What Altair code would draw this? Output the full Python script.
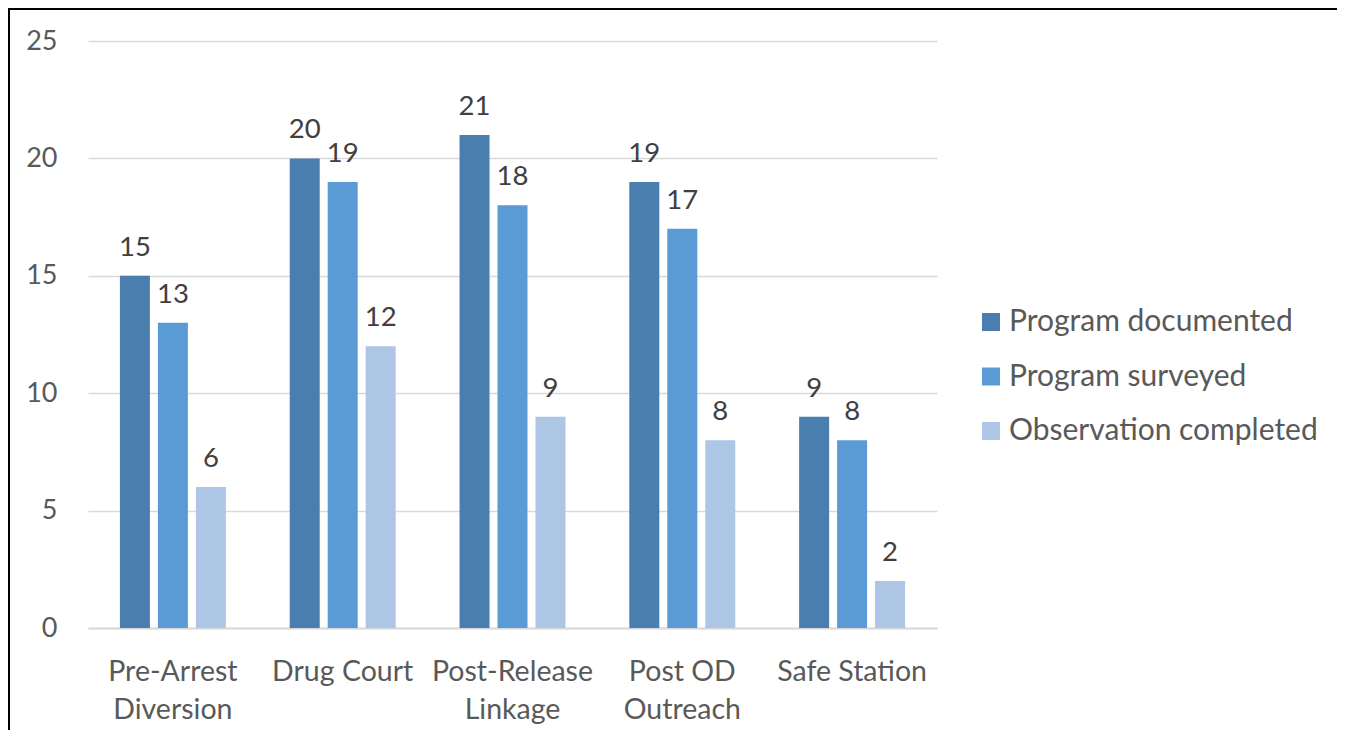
import altair as alt
import pandas as pd

categories = ["Pre-Arrest\nDiversion", "Drug Court", "Post-Release\nLinkage", "Post OD\nOutreach", "Safe Station"]
series = ["Program documented", "Program surveyed", "Observation completed"]
documented = [15, 20, 21, 19, 9]
surveyed = [13, 19, 18, 17, 8]
observed = [6, 12, 9, 8, 2]
colors = ["#4A7EAF", "#5B9BD5", "#ADC6E6"]
y_ticks = [0, 5, 10, 15, 20, 25]

rows = []
for i, c in enumerate(categories):
    for s, vals in zip(series, [documented, surveyed, observed]):
        rows.append({"category": c, "series": s, "value": vals[i]})
df = pd.DataFrame(rows)

FONT = "Lato"

x_enc = alt.X("category:N", sort=categories,
              scale=alt.Scale(paddingInner=0.376, paddingOuter=0.188),
              axis=alt.Axis(title=None, labelAngle=0, labelFont=FONT, labelFontSize=28.5,
                            labelColor="#595959", labelPadding=29, labelLineHeight=38,
                            labelBaseline="top", ticks=False, domain=True, domainColor="#D9D9D9",
                            domainWidth=2, grid=False, labelLimit=0,
                            labelExpr="split(datum.label, '\\n')"))
xoff = alt.XOffset("series:N", sort=series, scale=alt.Scale(paddingInner=0.21, paddingOuter=0))
y_enc = alt.Y("value:Q", scale=alt.Scale(domain=[0, 25], nice=False),
              axis=alt.Axis(title=None, values=y_ticks, labelFont=FONT, labelFontSize=27,
                            labelColor="#595959", labelPadding=31, ticks=False, domain=False,
                            grid=True, gridColor="#D9D9D9", gridWidth=1.5))

bars = alt.Chart(df).mark_bar().encode(
    x=x_enc, xOffset=xoff, y=y_enc,
    color=alt.Color("series:N", sort=series,
                    scale=alt.Scale(domain=series, range=colors),
                    legend=alt.Legend(title=None, orient="none", legendX=888, legendY=266,
                                      symbolType="square", symbolSize=324, symbolStrokeWidth=0,
                                      labelFont=FONT, labelFontSize=30, labelColor="#595959",
                                      rowPadding=24.5, labelOffset=3, labelLimit=0)),
)

labels = alt.Chart(df).mark_text(font=FONT, fontSize=27.5, color="#404040",
                                 baseline="alphabetic", dy=-20).encode(
    x=alt.X("category:N", sort=categories), xOffset=alt.XOffset("series:N", sort=series),
    y="value:Q", text="value:Q")

frame = alt.Chart(pd.DataFrame({"a": [0]})).mark_rect(filled=False, stroke="black", strokeWidth=2).encode(
    x=alt.value(-79), x2=alt.value(1250), y=alt.value(-32), y2=alt.value(800))

chart = alt.layer(bars, labels, frame).properties(
    width=849, height=587,
    autosize=alt.AutoSizeParams(type="none"),
    padding={"left": 80, "top": 33, "right": 400, "bottom": 102},
).configure_view(stroke=None)

chart.save("out.html", embed_options={"renderer": "svg", "actions": False})
